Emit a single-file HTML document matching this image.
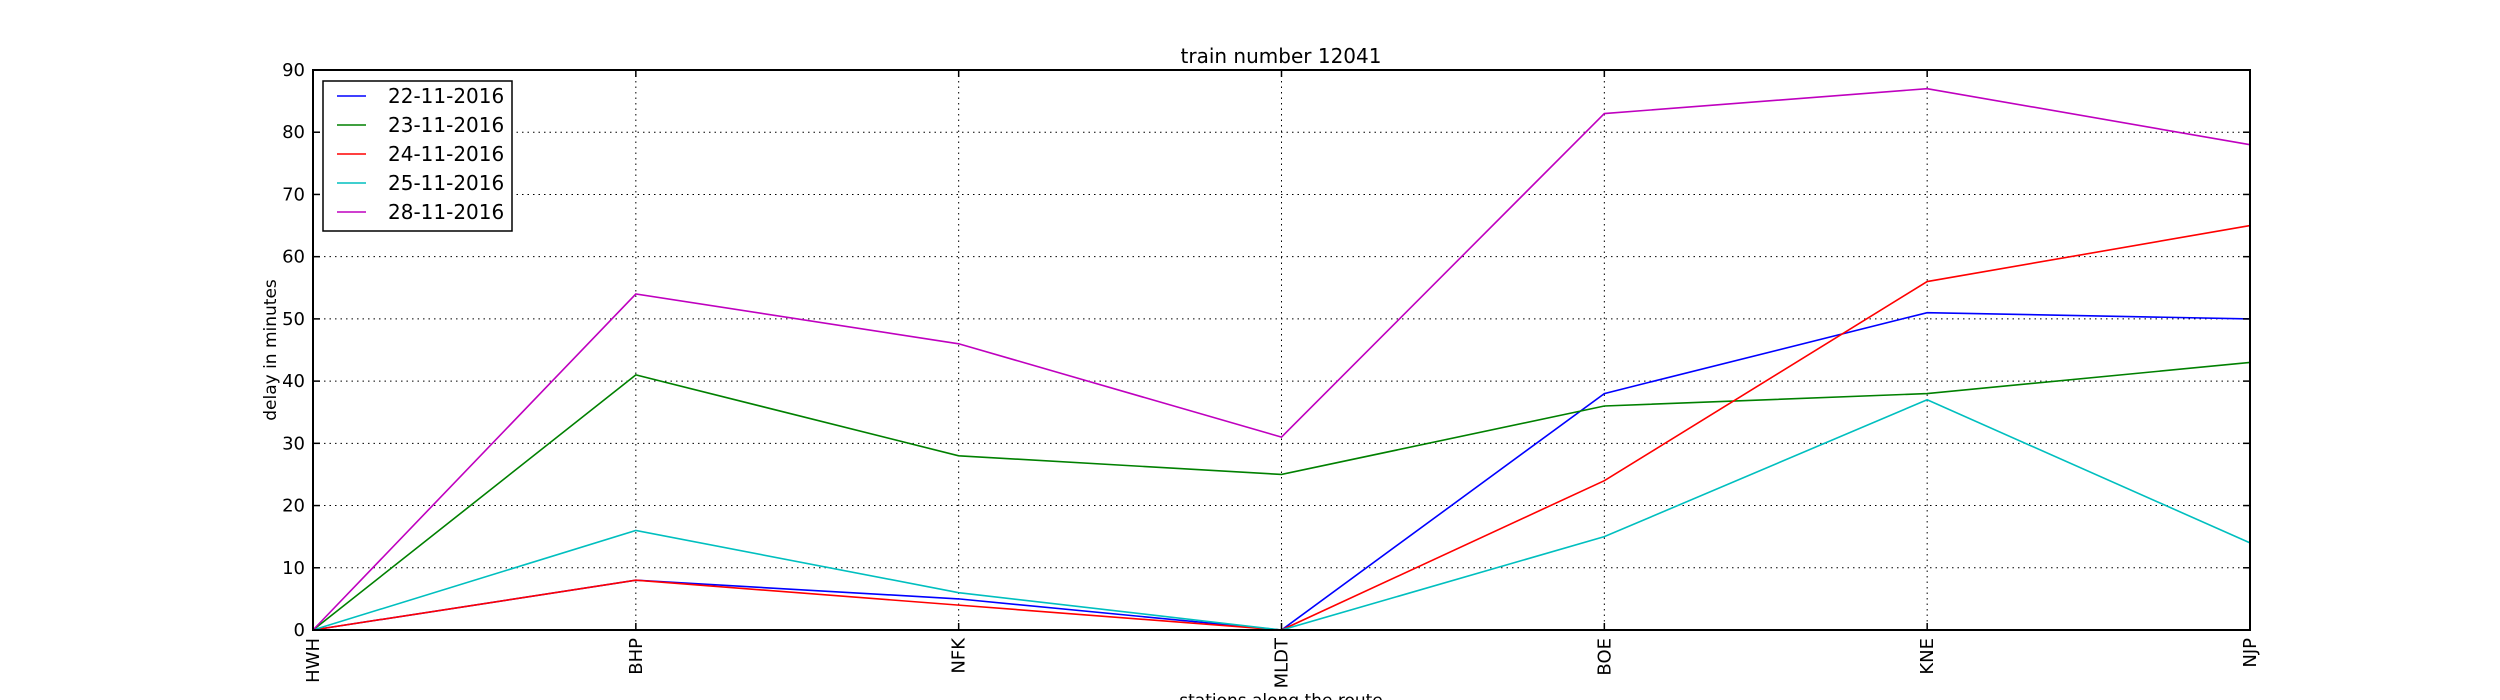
<!DOCTYPE html>
<html><head><meta charset="utf-8"><style>
html,body{margin:0;padding:0;background:#fff;}
svg{display:block;font-family:"DejaVu Sans","Liberation Sans",sans-serif;}
</style></head><body>
<svg id="chart" width="2500" height="700" viewBox="0 0 2500 700" xmlns="http://www.w3.org/2000/svg">
<rect width="2500" height="700" fill="#fff"/>
<g id="grid"></g>
<g id="series"></g>
<rect x="313" y="70" width="1937" height="560" fill="none" stroke="#000" stroke-width="2"/>
<g id="ticks"></g>
<text x="1281" y="63" font-size="20" text-anchor="middle">train number 12041</text>
<text transform="translate(276,350) rotate(-90)" font-size="17" text-anchor="middle">delay in minutes</text>
<text x="1281" y="706" font-size="17" text-anchor="middle">stations along the route</text>
<g id="legend"></g>
</svg>
<script>
const stations = ["HWH","BHP","NFK","MLDT","BOE","KNE","NJP"];
const seriesNames = ["22-11-2016","23-11-2016","24-11-2016","25-11-2016","28-11-2016"];
const s1 = [0,8,5,0,38,51,50];
const s2 = [0,41,28,25,36,38,43];
const s3 = [0,8,4,0,24,56,65];
const s4 = [0,16,6,0,15,37,14];
const s5 = [0,54,46,31,83,87,78];
const yTicks = [0,10,20,30,40,50,60,70,80,90];
const colors = ["#0000ff","#008000","#ff0000","#00bfbf","#bf00bf"];
const allSeries = [s1,s2,s3,s4,s5];
const NS="http://www.w3.org/2000/svg";
const L=313,R=2250,T=70,B=630,yMax=90;
function xs(i){return L+(R-L)*i/(stations.length-1);}
function ys(v){return B-(B-T)*v/yMax;}
function mk(tag,attrs,parent){const e=document.createElementNS(NS,tag);for(const k in attrs)e.setAttribute(k,attrs[k]);parent.appendChild(e);return e;}
const grid=document.getElementById('grid'),ticks=document.getElementById('ticks'),ser=document.getElementById('series'),leg=document.getElementById('legend');
yTicks.forEach(v=>{
  const y=ys(v);
  if(v>0&&v<yMax){const g=mk('line',{x1:L,x2:R,y1:y,y2:y,stroke:'#000','stroke-width':1,'stroke-dasharray':'1.5,4'},grid);
  
  }
  mk('line',{x1:L,x2:L+7,y1:y,y2:y,stroke:'#000','stroke-width':1.5},ticks);
  mk('line',{x1:R-7,x2:R,y1:y,y2:y,stroke:'#000','stroke-width':1.5},ticks);
  const t=mk('text',{x:L-8,y:y+6,'font-size':18,'text-anchor':'end'},ticks);
  t.textContent=v;
  
  
});
stations.forEach((s,i)=>{
  const x=xs(i);
  if(i>0&&i<stations.length-1){const g=mk('line',{x1:x,x2:x,y1:T,y2:B,stroke:'#000','stroke-width':1,'stroke-dasharray':'1.5,4'},grid);
  
  }
  mk('line',{x1:x,x2:x,y1:B,y2:B-7,stroke:'#000','stroke-width':1.5},ticks);
  mk('line',{x1:x,x2:x,y1:T,y2:T+7,stroke:'#000','stroke-width':1.5},ticks);
  const t=mk('text',{transform:`translate(${x+6},638) rotate(-90)`,'font-size':18,'text-anchor':'end'},ticks);
  t.textContent=s;
  
  
});
allSeries.forEach((d,k)=>{
  const p=mk('polyline',{points:d.map((v,i)=>xs(i)+','+ys(v)).join(' '),fill:'none',stroke:colors[k],'stroke-width':1.6},ser);
  
  
});
const lb=mk('rect',{x:323,y:81,width:189,height:150,fill:'#fff',stroke:'#000','stroke-width':1.5},leg);


seriesNames.forEach((n,k)=>{
  const y=96+k*29;
  const g=mk('g',{},leg);
  
  
  mk('line',{x1:337,x2:366,y1:y,y2:y,stroke:colors[k],'stroke-width':1.6},g);
  const t=mk('text',{x:388,y:y+7,'font-size':20},g);
  t.textContent=n;
});
</script>
</body></html>
